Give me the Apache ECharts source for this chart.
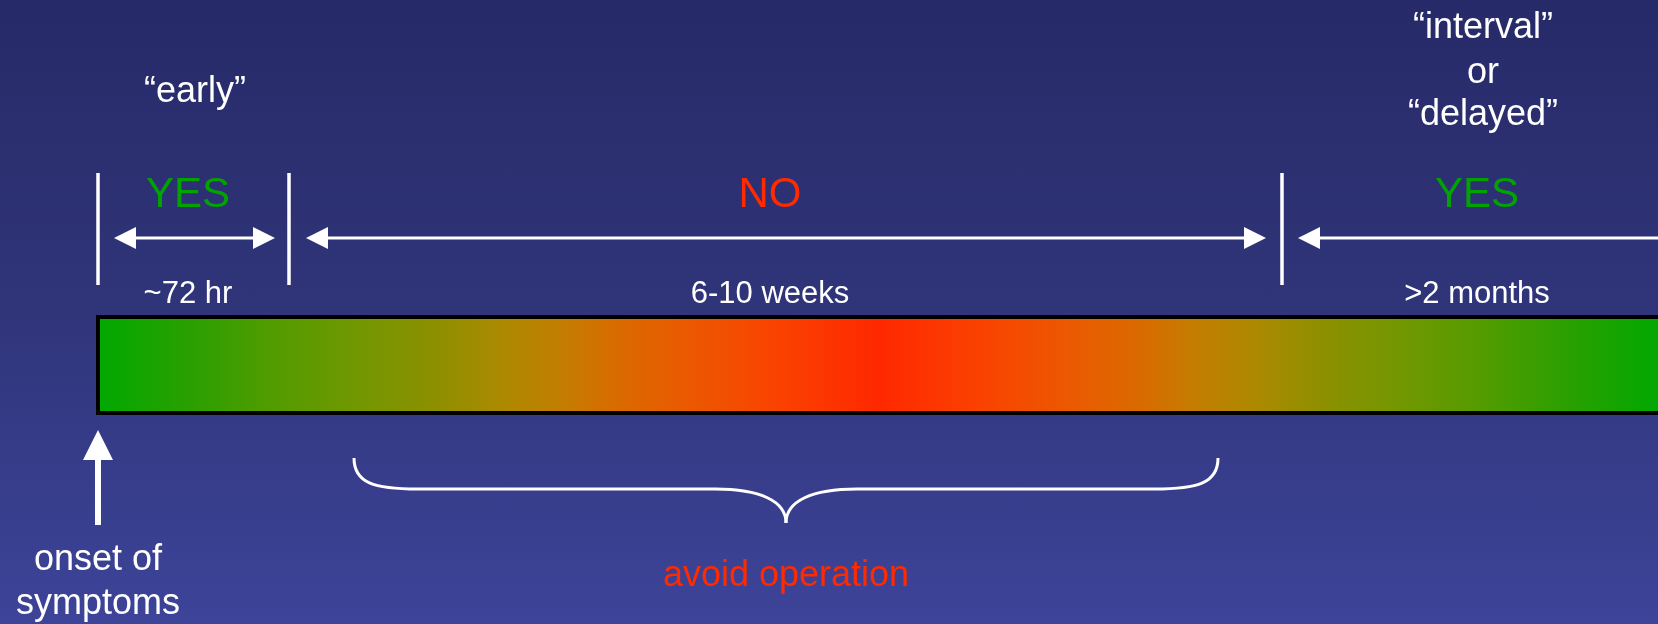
<!DOCTYPE html>
<html>
<head>
<meta charset="utf-8">
<script src="https://cdn.jsdelivr.net/npm/echarts@6/dist/echarts.min.js"></script>
<style>
  html, body { margin: 0; padding: 0; }
  #chart { width: 1658px; height: 624px;
    background: linear-gradient(to bottom, #272a68 0%, #30357a 50%, #3d4499 100%); }
</style>
</head>
<body>
<div id="chart"></div>
<script>
// ---- diagram values (axis units: x 0..1658, y 0..624 top-down) ----
const separators = [98, 289, 1282];
const separatorSpan = [173, 285];
const arrowStarts = [114, 306, 1298];
const arrowEnds = [275, 1266, 1700];
const arrowHeadAtEnd = [true, true, false];
const arrowY = 238;
const verdicts = ['YES', 'NO', 'YES'];
const verdictColors = ['#00a300', '#ff2a00', '#00a300'];
const phaseCentres = [188, 770, 1477];
const verdictY = 195;
const durations = ['~72 hr', '6-10 weeks', '>2 months'];
const durationY = 294;
const headerLines = ['\u201cearly\u201d', '\u201cinterval\u201d', 'or', '\u201cdelayed\u201d'];
const headerX = [195, 1483, 1483, 1483];
const headerY = [92, 28, 73, 115];
const barX = [96, 1662];
const barY = [315, 415];
const gradientOffsets = [0, 0.06, 0.11, 0.16, 0.215, 0.265, 0.30, 0.33, 0.38, 0.435, 0.5,
                         0.565, 0.62, 0.67, 0.70, 0.735, 0.785, 0.84, 0.89, 0.94, 1];
const gradientColors = ['#00a800', '#2aa000', '#509c00', '#6e9800', '#8c9000', '#b08800', '#c47c00',
                        '#d86c00', '#ec5800', '#fa4200', '#ff2800',
                        '#fa4200', '#ec5800', '#d86c00', '#c47c00', '#b08800', '#8c9000', '#6e9800',
                        '#509c00', '#2aa000', '#00a800'];
const onsetLines = ['onset of', 'symptoms'];
const onsetX = 98;
const onsetY = [560, 604];
const onsetArrow = [525, 430]; // tail y, tip y
const braceX = [354, 786, 1218];
const braceY = [458, 489, 523]; // ends, rail, tip
const avoidLabel = 'avoid operation';
const avoidY = 576;

const FONT = '"Liberation Sans", Arial, sans-serif';
const WHITE = '#ffffff';

const chart = echarts.init(document.getElementById('chart'), null, { renderer: 'canvas' });

function textEl(api, str, x, y, size, color) {
  const p = api.coord([x, y]);
  return {
    type: 'text',
    style: {
      text: str, x: p[0], y: p[1],
      font: size + 'px ' + FONT,
      fill: color,
      textAlign: 'center', textVerticalAlign: 'middle',
      align: 'center', verticalAlign: 'middle'
    }
  };
}

function head(tip, dir, len, half) {
  return [[tip[0], tip[1]], [tip[0] - dir * len, tip[1] - half], [tip[0] - dir * len, tip[1] + half]];
}

const option = {
  animation: false,
  backgroundColor: 'transparent',
  grid: { left: 0, right: 0, top: 0, bottom: 0 },
  xAxis: { type: 'value', min: 0, max: 1658, show: false },
  yAxis: { type: 'value', min: 0, max: 624, inverse: true, show: false },
  series: [
    { // gradient timeline bar
      type: 'custom', data: [[barX[0], barY[0], barX[1], barY[1]]], silent: true,
      renderItem: function (params, api) {
        const a = api.coord([api.value(0), api.value(1)]);
        const b = api.coord([api.value(2), api.value(3)]);
        return {
          type: 'rect',
          shape: { x: a[0] + 2, y: a[1] + 2, width: b[0] - a[0] - 4, height: b[1] - a[1] - 4 },
          style: {
            fill: new echarts.graphic.LinearGradient(0, 0, 1, 0,
              gradientOffsets.map((o, i) => ({ offset: o, color: gradientColors[i] }))),
            stroke: '#000000', lineWidth: 4
          }
        };
      }
    },
    { // separators
      type: 'custom', data: separators.map(x => [x]), silent: true,
      renderItem: function (params, api) {
        const a = api.coord([api.value(0), separatorSpan[0]]);
        const b = api.coord([api.value(0), separatorSpan[1]]);
        return { type: 'line', shape: { x1: a[0], y1: a[1], x2: b[0], y2: b[1] },
          style: { stroke: WHITE, lineWidth: 3.5 } };
      }
    },
    { // phase arrows
      type: 'custom', data: arrowStarts.map((s, i) => [s, arrowEnds[i]]), silent: true, clip: false,
      renderItem: function (params, api) {
        const i = params.dataIndex;
        const a = api.coord([api.value(0), arrowY]);
        const b = api.coord([api.value(1), arrowY]);
        const len = 22, half = 11;
        const children = [
          { type: 'line', shape: { x1: a[0] + len - 1, y1: a[1], x2: arrowHeadAtEnd[i] ? b[0] - len + 1 : b[0], y2: b[1] },
            style: { stroke: WHITE, lineWidth: 3 } },
          { type: 'polygon', shape: { points: head(a, -1, len, half) }, style: { fill: WHITE } }
        ];
        if (arrowHeadAtEnd[i]) {
          children.push({ type: 'polygon', shape: { points: head(b, 1, len, half) }, style: { fill: WHITE } });
        }
        return { type: 'group', children: children };
      }
    },
    { // verdict labels
      type: 'custom', data: verdicts.map((v, i) => [phaseCentres[i]]), silent: true,
      renderItem: function (params, api) {
        const i = params.dataIndex;
        return textEl(api, verdicts[i], api.value(0), verdictY, 42, verdictColors[i]);
      }
    },
    { // duration labels
      type: 'custom', data: durations.map((v, i) => [phaseCentres[i]]), silent: true,
      renderItem: function (params, api) {
        return textEl(api, durations[params.dataIndex], api.value(0), durationY, 31, WHITE);
      }
    },
    { // header labels
      type: 'custom', data: headerLines.map((v, i) => [headerX[i], headerY[i]]), silent: true,
      renderItem: function (params, api) {
        return textEl(api, headerLines[params.dataIndex], api.value(0), api.value(1), 36, WHITE);
      }
    },
    { // onset arrow and label
      type: 'custom', data: [[onsetX]], silent: true,
      renderItem: function (params, api) {
        const x = api.value(0);
        const tail = api.coord([x, onsetArrow[0]]);
        const tip = api.coord([x, onsetArrow[1]]);
        const hl = 30, hw = 15;
        return { type: 'group', children: [
          { type: 'rect', shape: { x: tail[0] - 3, y: tip[1] + hl - 1, width: 6, height: tail[1] - tip[1] - hl + 1 },
            style: { fill: WHITE } },
          { type: 'polygon', shape: { points: [[tip[0], tip[1]], [tip[0] - hw, tip[1] + hl], [tip[0] + hw, tip[1] + hl]] },
            style: { fill: WHITE } },
          textEl(api, onsetLines[0], x, onsetY[0], 36, WHITE),
          textEl(api, onsetLines[1], x, onsetY[1], 36, WHITE)
        ] };
      }
    },
    { // brace + avoid operation
      type: 'custom', data: [[braceX[0], braceX[1], braceX[2]]], silent: true,
      renderItem: function (params, api) {
        const L = api.coord([api.value(0), braceY[0]]);
        const M = api.coord([api.value(1), braceY[2]]);
        const R = api.coord([api.value(2), braceY[0]]);
        const rail = api.coord([0, braceY[1]])[1];
        const s = { stroke: WHITE, lineWidth: 3, fill: null };
        const c1 = 64, c2 = 71;
        return { type: 'group', children: [
          { type: 'bezierCurve', shape: { x1: L[0], y1: L[1], cpx1: L[0], cpy1: rail - 6, cpx2: L[0] + 20, cpy2: rail, x2: L[0] + c1, y2: rail }, style: s },
          { type: 'line', shape: { x1: L[0] + c1, y1: rail, x2: M[0] - c2, y2: rail }, style: s },
          { type: 'bezierCurve', shape: { x1: M[0] - c2, y1: rail, cpx1: M[0] - 26, cpy1: rail, cpx2: M[0], cpy2: rail + 12, x2: M[0], y2: M[1] }, style: s },
          { type: 'bezierCurve', shape: { x1: M[0], y1: M[1], cpx1: M[0], cpy1: rail + 12, cpx2: M[0] + 26, cpy2: rail, x2: M[0] + c2, y2: rail }, style: s },
          { type: 'line', shape: { x1: M[0] + c2, y1: rail, x2: R[0] - c1, y2: rail }, style: s },
          { type: 'bezierCurve', shape: { x1: R[0] - c1, y1: rail, cpx1: R[0] - 20, cpy1: rail, cpx2: R[0], cpy2: rail - 6, x2: R[0], y2: R[1] }, style: s },
          textEl(api, avoidLabel, api.value(1), avoidY, 36, '#ff2a00')
        ] };
      }
    }
  ]
};
chart.setOption(option);
</script>
</body>
</html>
